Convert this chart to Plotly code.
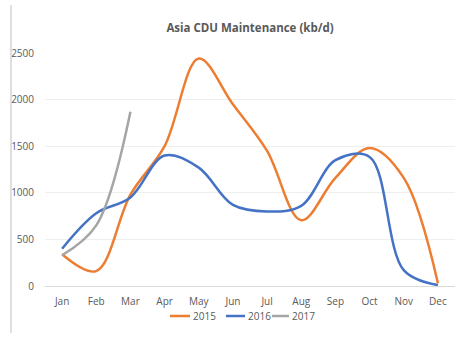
import plotly.graph_objects as go

months = ["Jan", "Feb", "Mar", "Apr", "May", "Jun", "Jul", "Aug", "Sep", "Oct", "Nov", "Dec"]
y2015 = [340, 160, 980, 1500, 2440, 1950, 1450, 705, 1160, 1480, 1160, 30]
y2016 = [400, 780, 950, 1400, 1270, 870, 800, 860, 1350, 1385, 170, 10]
y2017 = [330, 650, 1870]
y_ticks = [0, 500, 1000, 1500, 2000, 2500]

series = [("2015", y2015, "#ED7D31"), ("2016", y2016, "#4472C4"), ("2017", y2017, "#A5A5A5")]

fig = go.Figure()
for name, vals, col in series:
    fig.add_trace(go.Scatter(x=months[:len(vals)], y=vals, name=name, mode="lines",
                             line=dict(color=col, width=2.5, shape="spline", smoothing=1),
                             showlegend=False))

L, W, T, H = 45, 410, 53, 233


def px(xp):
    return (xp - L) / W


def py(yp):
    return (T + H - yp) / H


fig.update_layout(
    width=468, height=343,
    margin=dict(l=L, r=468 - L - W, t=T, b=343 - T - H),
    paper_bgcolor="white", plot_bgcolor="white",
    font=dict(family="Open Sans, Liberation Sans, sans-serif", size=10, color="#595959"),
    title=dict(text="<b>Asia CDU Maintenance (kb/d)</b>", x=0.5, xref="paper", xanchor="center",
               y=1 - 28 / 343, yanchor="middle", font=dict(size=11.5, color="#595959")),
    xaxis=dict(type="category", categoryorder="array", categoryarray=months,
               range=[-0.5, 11.5], showgrid=False, showline=True, linecolor="#d9d9d9",
               linewidth=1, ticks="", tickfont=dict(size=10, color="#595959"), ticklabelstandoff=6,
               zeroline=False),
    yaxis=dict(range=[0, 2500], tickvals=y_ticks, ticktext=[str(v) for v in y_ticks],
               showgrid=True, gridcolor="#efefef", gridwidth=1, zeroline=False, showline=False,
               tickfont=dict(size=10, color="#595959"), ticklabelstandoff=10),
    showlegend=False,
)

# left border line
fig.add_shape(type="line", xref="paper", yref="paper",
              x0=px(11), x1=px(11), y0=py(333), y1=py(5),
              line=dict(color="#bfbfbf", width=1))

# manual legend
leg_y = 316
leg_items = [(170, 190), (226, 245), (272, 289)]
for (x0, x1), (name, vals, col) in zip(leg_items, series):
    fig.add_shape(type="line", xref="paper", yref="paper",
                  x0=px(x0), x1=px(x1), y0=py(leg_y), y1=py(leg_y),
                  line=dict(color=col, width=2.5))
    fig.add_annotation(xref="paper", yref="paper", x=px(x1 + 1), y=py(leg_y),
                       xanchor="left", yanchor="middle", text=name, showarrow=False,
                       font=dict(size=10, color="#595959"))

fig.write_html("out.html")
